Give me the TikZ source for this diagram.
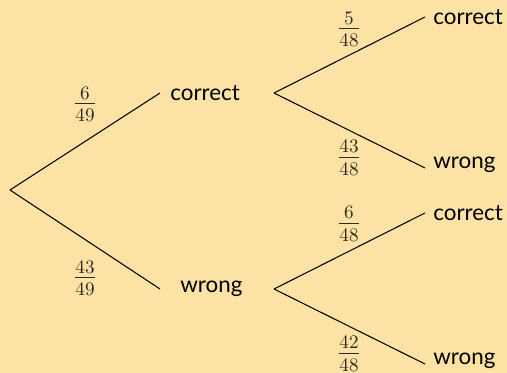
\documentclass[tikz,border=0pt]{standalone}
\usepackage{fontspec}
\setsansfont{Lato}
\definecolor{bgc}{RGB}{253,226,165}
\definecolor{fracc}{RGB}{45,40,32}
\newcommand{\pfrac}[2]{$\frac{#1}{#2}$}
\begin{document}
\begin{tikzpicture}[x=0.5714pt,y=-0.5714pt,
  lbl/.style={font=\sffamily\fontsize{12.8}{15}\selectfont,inner sep=0pt,text=black},
  frc/.style={inner sep=0pt,text=fracc,font=\fontsize{16}{19}\selectfont},
  br/.style={draw=black,line width=0.6pt}]
\fill[bgc] (0,0) rectangle (507,373);
\useasboundingbox (0,0) rectangle (507,373);
% coordinates
\coordinate (r) at (10,190);
\coordinate (c1in) at (160,93);
\coordinate (c1out) at (274,93);
\coordinate (w1in) at (160,289);
\coordinate (w1out) at (274,289);
\coordinate (cc) at (425,17);
\coordinate (cw) at (425,168);
\coordinate (wc) at (425,213);
\coordinate (ww) at (425,364);
% labels
\node[lbl,anchor=west] (c1) at (170,93) {correct};
\node[lbl,anchor=west] (w1) at (180,289) {wrong};
\node[lbl,anchor=west] (c2) at (433,17) {correct};
\node[lbl,anchor=west] (w2) at (433,165) {wrong};
\node[lbl,anchor=west] (c3) at (433,213) {correct};
\node[lbl,anchor=west] (w3) at (433,361) {wrong};
% branches
\draw[br] (r) -- (c1in);
\draw[br] (r) -- (w1in);
\draw[br] (c1out) -- (cc);
\draw[br] (c1out) -- (cw);
\draw[br] (w1out) -- (wc);
\draw[br] (w1out) -- (ww);
% probabilities
\node[frc] (p1) at (85,104) {\pfrac{6}{49}};
\node[frc] (p2) at (85,278) {\pfrac{43}{49}};
\node[frc] (p3) at (349,29) {\pfrac{5}{48}};
\node[frc] (p4) at (349,158) {\pfrac{43}{48}};
\node[frc] (p5) at (349,224) {\pfrac{6}{48}};
\node[frc] (p6) at (349,354) {\pfrac{42}{48}};
\end{tikzpicture}
\end{document}
